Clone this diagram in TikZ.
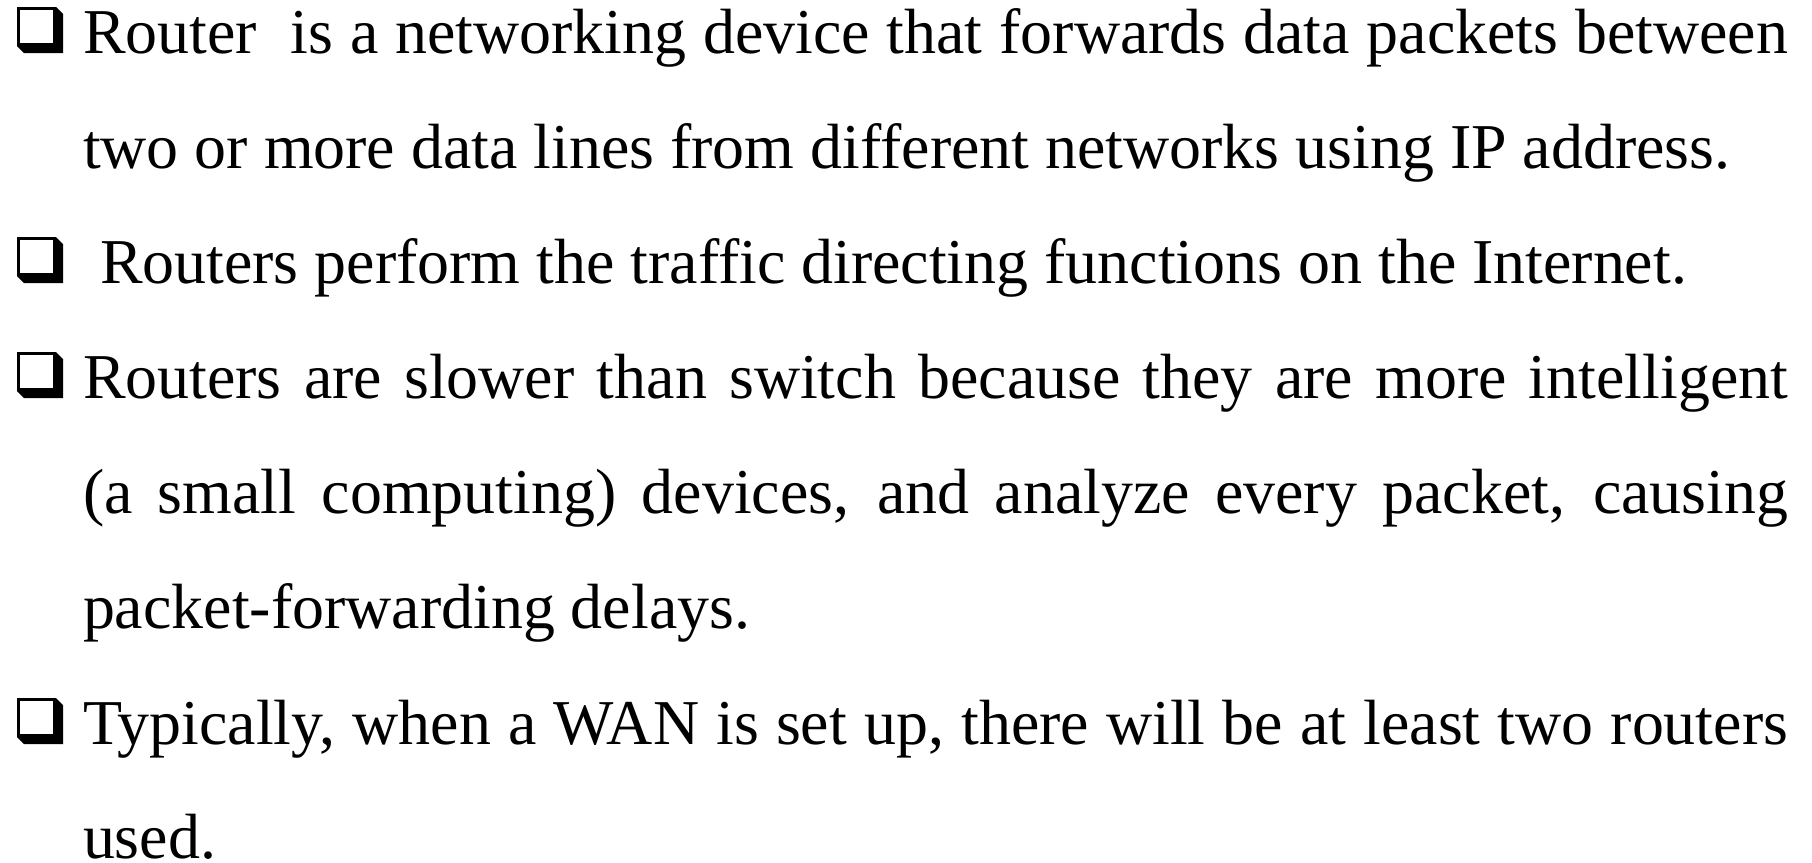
\documentclass[tikz,border=0pt]{standalone}
\usepackage{fontspec}
\setmainfont{Liberation Serif}
\tikzset{
  qbullet/.pic={
    \fill[black] (0,0) -- (39,0) -- (46,7) -- (46,46) -- (7,46) -- (0,39) -- cycle;
    \fill[white] (3,3) rectangle (36,36);
  },
  txt/.style={anchor=base west, inner sep=0pt, outer sep=0pt, font=\fontsize{63.9pt}{76pt}\selectfont},
}
\newcommand{\jline}[1]{\makebox[1705pt][s]{#1}}
\begin{document}
\begin{tikzpicture}[x=1pt,y=-1pt]
\useasboundingbox[fill=white] (0,0) rectangle (1812,862);
\pic at (17,7) {qbullet};
\pic at (17,237) {qbullet};
\pic at (17,352) {qbullet};
\pic at (17,698) {qbullet};
\node[txt] (l1) at (83,53) {\jline{Router\ \ is a networking device that forwards data packets between}};
\node[txt] (l2) at (83,168) {two or more data lines from different networks using IP address.};
\node[txt] (l3) at (100,283) {Routers perform the traffic directing functions on the Internet.};
\node[txt] (l4) at (83,398) {\jline{Routers are slower than switch because they are more intelligent}};
\node[txt] (l5) at (83,513) {\jline{(a small computing) devices, and analyze every packet, causing}};
\node[txt] (l6) at (83,628) {packet-forwarding delays.};
\node[txt] (l7) at (83,744) {\jline{Typically, when a WAN is set up, there will be at least two routers}};
\node[txt] (l8) at (83,858) {used.};
\end{tikzpicture}
\end{document}
